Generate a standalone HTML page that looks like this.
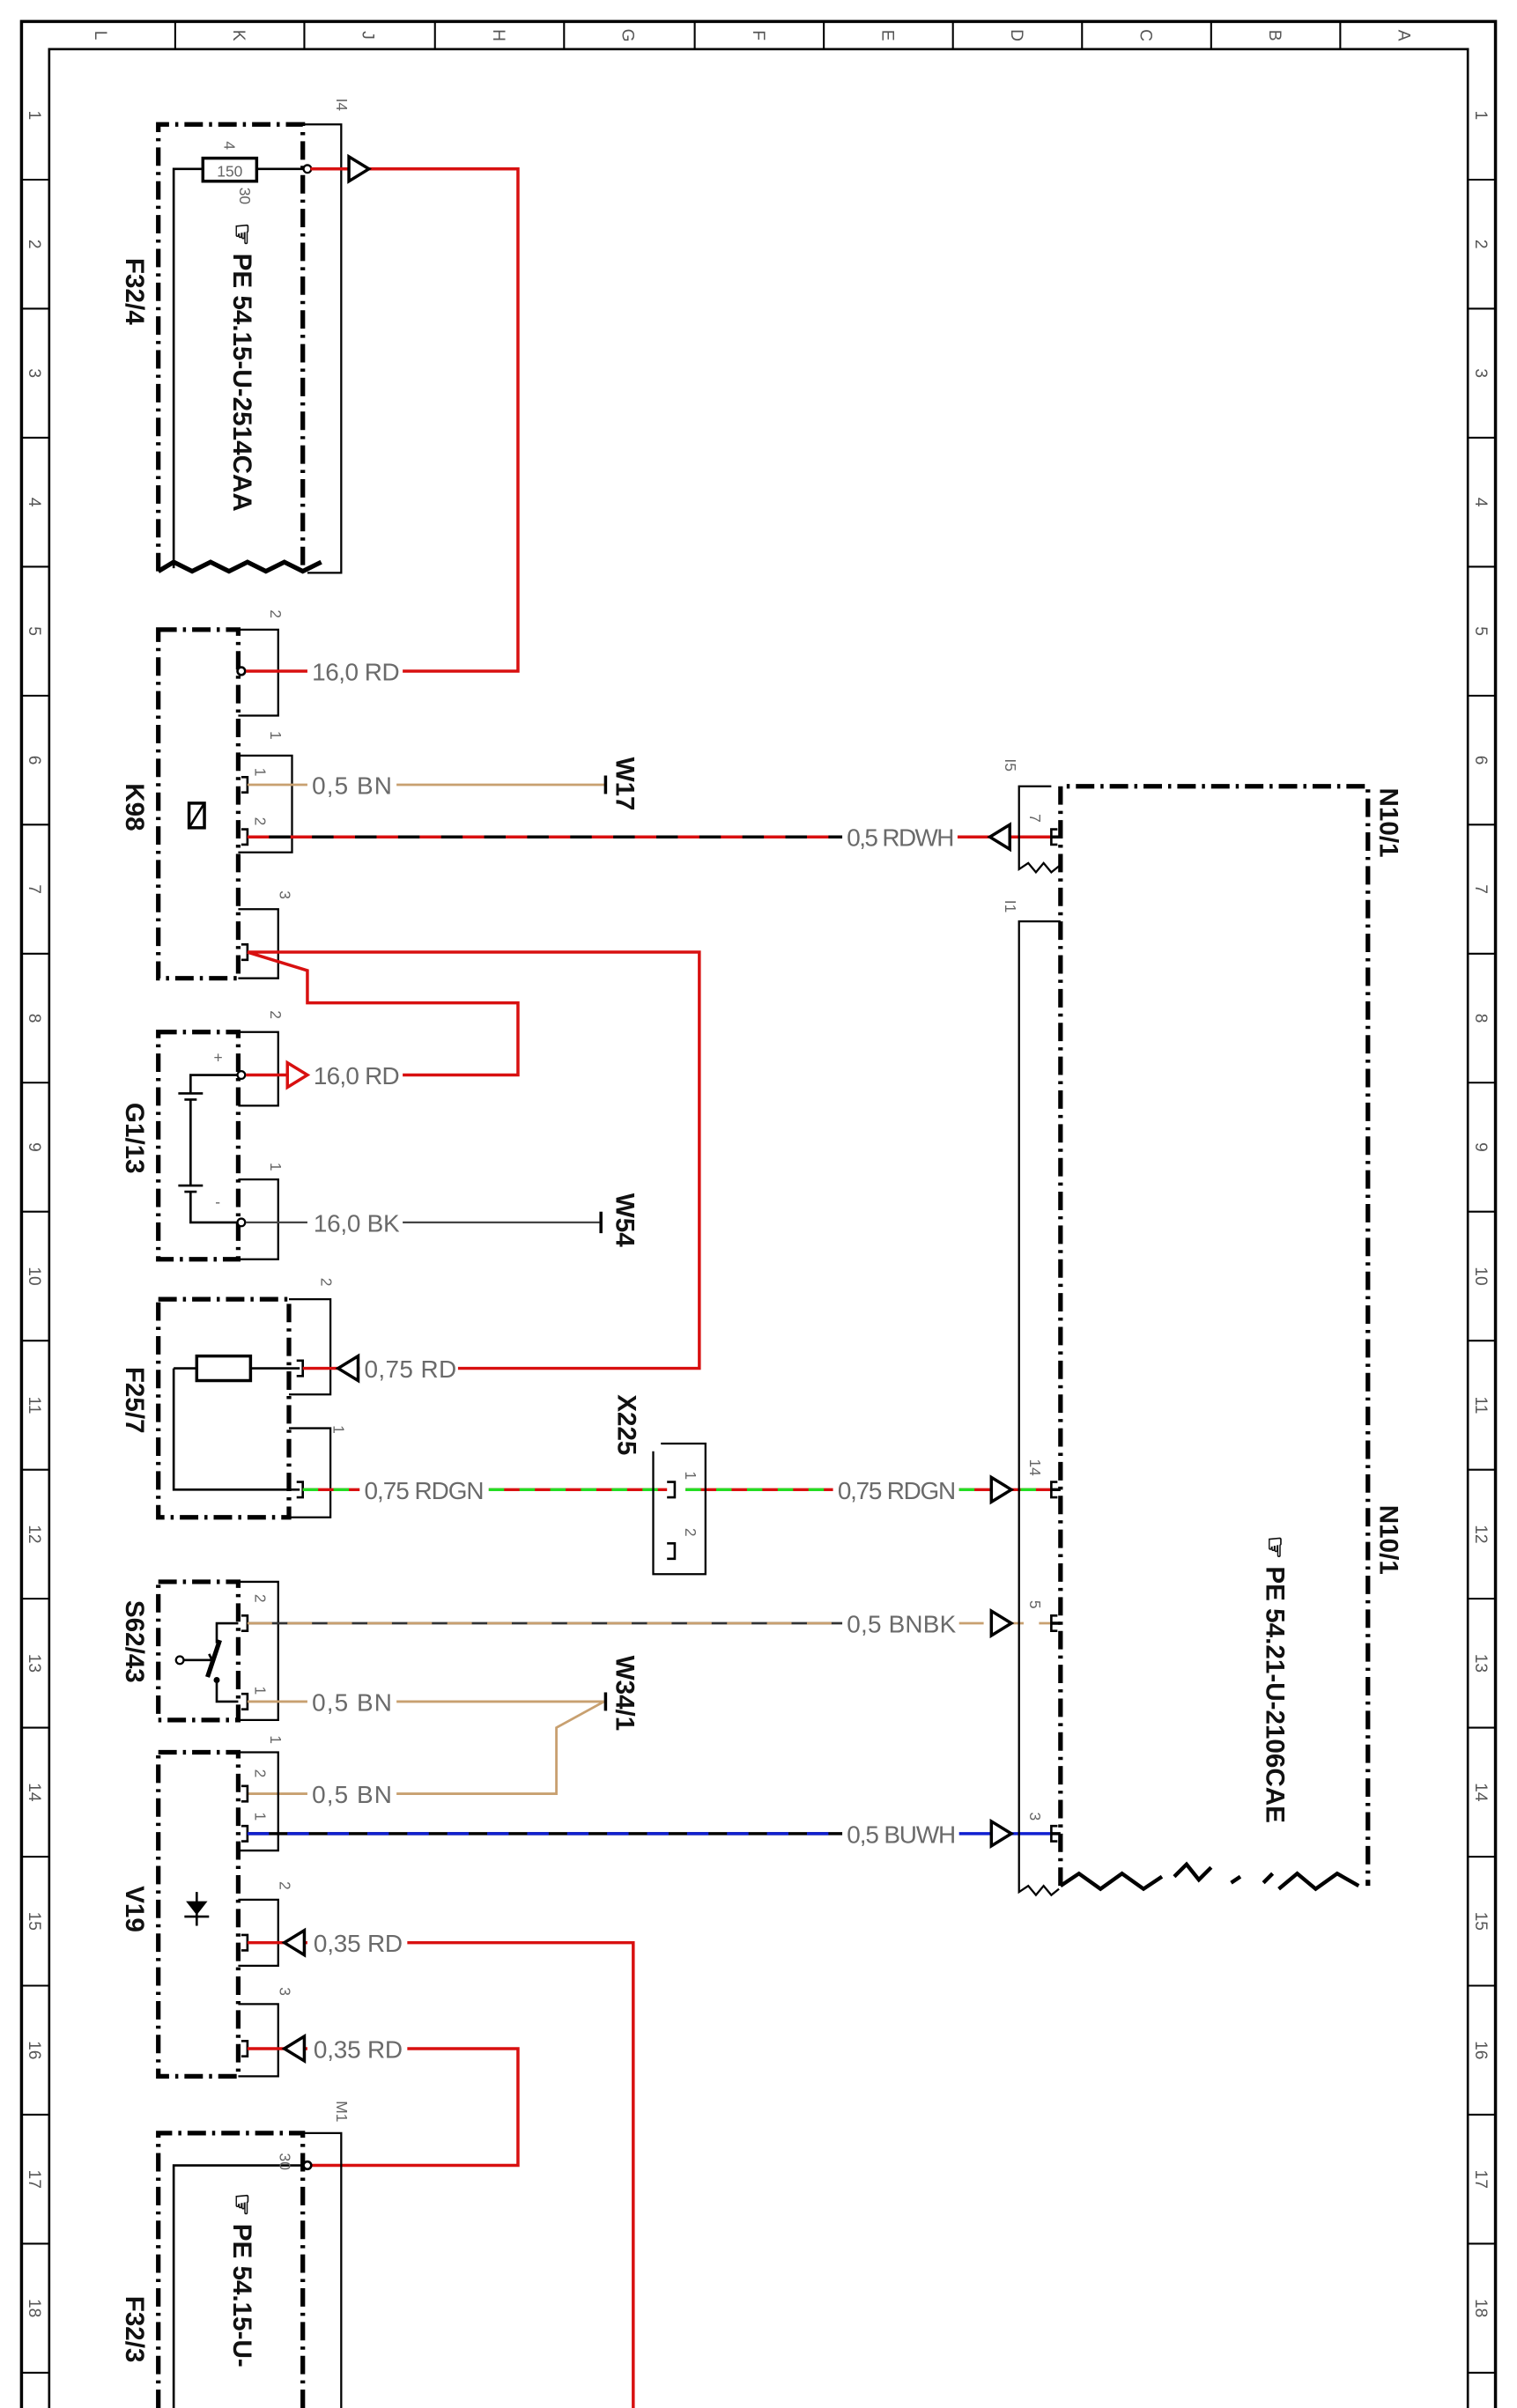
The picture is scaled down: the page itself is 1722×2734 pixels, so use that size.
<!DOCTYPE html>
<html><head><meta charset="utf-8"><style>
html,body{margin:0;padding:0;background:#fff}
svg{display:block}
text{font-family:"Liberation Sans",sans-serif}
.w{fill:#6a6a6a;font-size:16px}
.p{fill:#666;font-size:10px}
.b{fill:#111;font-size:17px;font-weight:bold}
.g{fill:#555;font-size:11px}
.db{fill:none;stroke:#000;stroke-width:3;stroke-dasharray:12 4 2 4}
.br{fill:none;stroke:#000;stroke-width:1.3}
.k{fill:none;stroke:#000;stroke-width:1.5}
.rd{fill:none;stroke:#d81010;stroke-width:2}
.bn{fill:none;stroke:#c8a070;stroke-width:1.6}
.tri{fill:#fff;stroke:#000;stroke-width:2}
</style></head><body>
<svg width="1722" height="2734" viewBox="0 0 987 1568" preserveAspectRatio="none" xmlns="http://www.w3.org/2000/svg">
<!-- frame -->
<path d="M14 1568 V14 H973 V1568" fill="none" stroke="#000" stroke-width="2"/>
<path d="M32 1568 V32 H955 V1568" fill="none" stroke="#000" stroke-width="1.5"/>
<g stroke="#000" stroke-width="1.2">
<line x1="114" y1="14" x2="114" y2="32"/><line x1="198" y1="14" x2="198" y2="32"/><line x1="283" y1="14" x2="283" y2="32"/><line x1="367" y1="14" x2="367" y2="32"/><line x1="452" y1="14" x2="452" y2="32"/><line x1="536" y1="14" x2="536" y2="32"/><line x1="620" y1="14" x2="620" y2="32"/><line x1="704" y1="14" x2="704" y2="32"/><line x1="788" y1="14" x2="788" y2="32"/><line x1="872" y1="14" x2="872" y2="32"/>
<line x1="14" y1="117" x2="32" y2="117"/><line x1="14" y1="201" x2="32" y2="201"/><line x1="14" y1="285" x2="32" y2="285"/><line x1="14" y1="369" x2="32" y2="369"/><line x1="14" y1="453" x2="32" y2="453"/><line x1="14" y1="537" x2="32" y2="537"/><line x1="14" y1="621" x2="32" y2="621"/><line x1="14" y1="705" x2="32" y2="705"/><line x1="14" y1="789" x2="32" y2="789"/><line x1="14" y1="873" x2="32" y2="873"/><line x1="14" y1="957" x2="32" y2="957"/><line x1="14" y1="1041" x2="32" y2="1041"/><line x1="14" y1="1125" x2="32" y2="1125"/><line x1="14" y1="1209" x2="32" y2="1209"/><line x1="14" y1="1293" x2="32" y2="1293"/><line x1="14" y1="1377" x2="32" y2="1377"/><line x1="14" y1="1461" x2="32" y2="1461"/><line x1="14" y1="1545" x2="32" y2="1545"/>
<line x1="955" y1="117" x2="973" y2="117"/><line x1="955" y1="201" x2="973" y2="201"/><line x1="955" y1="285" x2="973" y2="285"/><line x1="955" y1="369" x2="973" y2="369"/><line x1="955" y1="453" x2="973" y2="453"/><line x1="955" y1="537" x2="973" y2="537"/><line x1="955" y1="621" x2="973" y2="621"/><line x1="955" y1="705" x2="973" y2="705"/><line x1="955" y1="789" x2="973" y2="789"/><line x1="955" y1="873" x2="973" y2="873"/><line x1="955" y1="957" x2="973" y2="957"/><line x1="955" y1="1041" x2="973" y2="1041"/><line x1="955" y1="1125" x2="973" y2="1125"/><line x1="955" y1="1209" x2="973" y2="1209"/><line x1="955" y1="1293" x2="973" y2="1293"/><line x1="955" y1="1377" x2="973" y2="1377"/><line x1="955" y1="1461" x2="973" y2="1461"/><line x1="955" y1="1545" x2="973" y2="1545"/>
</g>
<g class="g" text-anchor="middle">
<text transform="translate(62,23) rotate(90)">L</text><text transform="translate(152,23) rotate(90)">K</text><text transform="translate(236,23) rotate(90)">J</text><text transform="translate(321,23) rotate(90)">H</text><text transform="translate(405,23) rotate(90)">G</text><text transform="translate(490,23) rotate(90)">F</text><text transform="translate(574,23) rotate(90)">E</text><text transform="translate(658,23) rotate(90)">D</text><text transform="translate(742,23) rotate(90)">C</text><text transform="translate(826,23) rotate(90)">B</text><text transform="translate(910,23) rotate(90)">A</text>
</g>
<g class="g" text-anchor="middle">
<text transform="translate(19,75) rotate(90)">1</text><text transform="translate(19,159) rotate(90)">2</text><text transform="translate(19,243) rotate(90)">3</text><text transform="translate(19,327) rotate(90)">4</text><text transform="translate(19,411) rotate(90)">5</text><text transform="translate(19,495) rotate(90)">6</text><text transform="translate(19,579) rotate(90)">7</text><text transform="translate(19,663) rotate(90)">8</text><text transform="translate(19,747) rotate(90)">9</text><text transform="translate(19,831) rotate(90)">10</text><text transform="translate(19,915) rotate(90)">11</text><text transform="translate(19,999) rotate(90)">12</text><text transform="translate(19,1083) rotate(90)">13</text><text transform="translate(19,1167) rotate(90)">14</text><text transform="translate(19,1251) rotate(90)">15</text><text transform="translate(19,1335) rotate(90)">16</text><text transform="translate(19,1419) rotate(90)">17</text><text transform="translate(19,1503) rotate(90)">18</text>
<text transform="translate(960,75) rotate(90)">1</text><text transform="translate(960,159) rotate(90)">2</text><text transform="translate(960,243) rotate(90)">3</text><text transform="translate(960,327) rotate(90)">4</text><text transform="translate(960,411) rotate(90)">5</text><text transform="translate(960,495) rotate(90)">6</text><text transform="translate(960,579) rotate(90)">7</text><text transform="translate(960,663) rotate(90)">8</text><text transform="translate(960,747) rotate(90)">9</text><text transform="translate(960,831) rotate(90)">10</text><text transform="translate(960,915) rotate(90)">11</text><text transform="translate(960,999) rotate(90)">12</text><text transform="translate(960,1083) rotate(90)">13</text><text transform="translate(960,1167) rotate(90)">14</text><text transform="translate(960,1251) rotate(90)">15</text><text transform="translate(960,1335) rotate(90)">16</text><text transform="translate(960,1419) rotate(90)">17</text><text transform="translate(960,1503) rotate(90)">18</text>
</g>

<!-- F32/4 -->
<path class="db" d="M103 372 V81 H197 V372"/>
<path d="M103 372 l10 -6 l12 6 l12 -6 l12 6 l12 -6 l12 6 l12 -6 l12 6 l12 -6" fill="none" stroke="#000" stroke-width="3"/>
<path class="k" d="M113 370 V110 H132 M167 110 H198"/>
<rect x="132" y="103" width="35" height="15" fill="#fff" stroke="#000" stroke-width="2"/>
<text x="149.5" y="115" class="p" text-anchor="middle" font-size="11">150</text>
<path class="br" d="M198 81 H222 V373 H200"/>
<circle cx="200" cy="110" r="2.5" fill="#fff" stroke="#000" stroke-width="1.3"/>
<text class="p" transform="translate(219,64) rotate(90)">I4</text>
<text class="p" transform="translate(146,92) rotate(90)">4</text>
<text class="p" transform="translate(156,122) rotate(90)">30</text>
<text class="b" transform="translate(152,145) rotate(90)">☞ PE  54.15-U-2514CAA</text>
<text class="b" transform="translate(82,168) rotate(90)" font-weight="normal" font-size="19">F32/4</text>
<path class="rd" d="M202 110 H337 V437 H262"/>
<polygon class="tri" points="227,102 227,118 240,110"/>

<!-- K98 -->
<path class="db" d="M103 410 H155 V637 H103 Z"/>
<path class="br" d="M155 410 H181 V466 H155 M155 492 H190 V555 H155 M155 592 H181 V637 H155"/>
<text class="p" transform="translate(176,397) rotate(90)">2</text>
<text class="p" transform="translate(176,476) rotate(90)">1</text>
<text class="p" transform="translate(166,500) rotate(90)">1</text>
<text class="p" transform="translate(166,532) rotate(90)">2</text>
<text class="p" transform="translate(182,580) rotate(90)">3</text>
<circle cx="157" cy="437" r="2.5" fill="#fff" stroke="#000" stroke-width="1.5"/>
<path class="rd" d="M160 437 H200"/>
<text class="w" x="203" y="443" textLength="57">16,0 RD</text>
<rect x="123" y="523" width="10" height="16" fill="none" stroke="#000" stroke-width="2"/><line x1="123" y1="539" x2="133" y2="523" stroke="#000" stroke-width="1.5"/>
<text class="b" transform="translate(82,510) rotate(90)" font-size="19">K98</text>
<path d="M157 506 h4 v10 h-4 M157 540 h4 v10 h-4 M157 615 h4 v10 h-4" fill="none" stroke="#000" stroke-width="1.5"/>
<path class="bn" d="M161 511 H200 M258 511 H394"/>
<text class="w" x="203" y="517" textLength="52">0,5 BN</text>
<line x1="394" y1="505" x2="394" y2="517" stroke="#000" stroke-width="2"/>
<text class="b" transform="translate(401,493) rotate(90)">W17</text>
<path d="M161 545 H548" stroke="#000" stroke-width="2" fill="none"/>
<path d="M161 545 H548" stroke="#d81010" stroke-width="2" stroke-dasharray="14 14" fill="none"/>
<text class="w" x="551" y="551" textLength="70">0,5 RDWH</text>
<path class="rd" d="M623 545 H684"/>
<polygon class="tri" points="657,537 657,553 644,545"/>
<path class="rd" d="M161 620 H455 V891 H298 M161 620 L200 632 V653 H337 V700 H262"/>

<!-- G1/13 -->
<path class="db" d="M103 672 H155 V820 H103 Z"/>
<path class="br" d="M155 672 H181 V720 H155 M155 768 H181 V820 H155"/>
<text class="p" transform="translate(176,658) rotate(90)">2</text>
<text class="p" transform="translate(176,757) rotate(90)">1</text>
<path class="k" d="M155 700 H124 V712 M116 712 H132 M120 716 H128 M124 716 V772 M116 772 H132 M120 776 H128 M124 776 V796 H155" stroke-dasharray=""/>
<text class="p" x="139" y="692" font-size="13">+</text><text class="p" x="140" y="786" font-size="13">-</text>
<circle cx="157" cy="700" r="2.5" fill="#fff" stroke="#000" stroke-width="1.3"/>
<circle cx="157" cy="796" r="2.5" fill="#fff" stroke="#000" stroke-width="1.3"/>
<path class="rd" d="M160 700 H200"/>
<polygon points="187,692 187,708 200,700" fill="#fff" stroke="#d81010" stroke-width="2"/>
<text class="w" x="204" y="706" textLength="56">16,0 RD</text>
<path d="M160 796 H200 M262 796 H390" stroke="#444" stroke-width="1.3"/>
<text class="w" x="204" y="802" textLength="56">16,0 BK</text>
<line x1="391" y1="789" x2="391" y2="803" stroke="#000" stroke-width="2"/>
<text class="b" transform="translate(401,777) rotate(90)">W54</text>
<text class="b" transform="translate(82,718) rotate(90)" font-size="19">G1/13</text>

<!-- F25/7 -->
<path class="db" d="M103 846 H188 V988 H103 Z"/>
<path class="br" d="M188 846 H215 V908 H188 M188 930 H215 V988 H188"/>
<text class="p" transform="translate(209,832) rotate(90)">2</text>
<text class="p" transform="translate(217,928) rotate(90)">1</text>
<rect x="128" y="883" width="35" height="16" fill="#fff" stroke="#000" stroke-width="2"/>
<path class="k" d="M113 891 H128 M163 891 H195 M113 891 V970 H195"/>
<path d="M193 886 h4 v10 h-4 M193 965 h4 v10 h-4" fill="none" stroke="#000" stroke-width="1.5"/>
<path class="rd" d="M197 891 H234"/>
<polygon class="tri" points="233,883 233,899 220,891"/>
<text class="w" x="237" y="897" textLength="60">0,75 RD</text>
<text class="b" transform="translate(82,890) rotate(90)" font-size="19">F25/7</text>
<path d="M197 970 H234 M318 970 H434 M446 970 H542 M624 970 H684" stroke="#d81010" stroke-width="2" fill="none"/>
<path d="M197 970 H234 M318 970 H434 M446 970 H542 M624 970 H684" stroke="#22dd22" stroke-width="2" stroke-dasharray="10 10" fill="none"/>
<text class="w" x="237" y="976" textLength="78">0,75 RDGN</text>
<text class="w" x="545" y="976" textLength="77">0,75 RDGN</text>
<polygon class="tri" points="645,962 645,978 658,970"/>
<path class="br" d="M425 945 V1025 H459 V940 H430" stroke-width="1.5"/>
<path d="M434 965 h5 v10 h-5 M434 1005 h5 v10 h-5" fill="none" stroke="#000" stroke-width="1.5"/>
<text class="p" transform="translate(446,958) rotate(90)">1</text>
<text class="p" transform="translate(446,995) rotate(90)">2</text>
<text class="b" transform="translate(402,908) rotate(90)">X225</text>

<!-- S62/43 -->
<path class="db" d="M103 1030 H155 V1120 H103 Z"/>
<path class="br" d="M155 1030 H181 V1120 H155"/>
<text class="p" transform="translate(166,1038) rotate(90)">2</text>
<text class="p" transform="translate(166,1098) rotate(90)">1</text>
<path class="k" d="M155 1057 H141 V1070 M141 1095 V1108 H155"/>
<line x1="143" y1="1068" x2="135" y2="1092" stroke="#000" stroke-width="3"/>
<circle cx="141" cy="1094" r="2" fill="#000"/>
<path class="k" d="M118 1081 H138 M136 1077 L138 1081"/>
<circle cx="117" cy="1081" r="2.5" fill="#fff" stroke="#000" stroke-width="1.3"/>
<path d="M157 1052 h4 v10 h-4 M157 1103 h4 v10 h-4" fill="none" stroke="#000" stroke-width="1.5"/>
<path d="M161 1057 H548" stroke="#333" stroke-width="1.6" fill="none"/>
<path d="M161 1057 H548 M624 1057 H684" stroke="#c8a070" stroke-width="1.6" stroke-dasharray="16 10" fill="none"/>
<text class="w" x="551" y="1063" textLength="71">0,5 BNBK</text>
<polygon class="tri" points="645,1049 645,1065 658,1057"/>
<path class="bn" d="M161 1108 H200 M258 1108 H393 M161 1168 H200 M258 1168 H362 V1125 L393 1108"/>
<text class="w" x="203" y="1114" textLength="52">0,5 BN</text>
<text class="w" x="203" y="1174" textLength="52">0,5 BN</text>
<line x1="394" y1="1102" x2="394" y2="1114" stroke="#000" stroke-width="2"/>
<text class="b" transform="translate(401,1078) rotate(90)">W34/1</text>
<text class="b" transform="translate(82,1042) rotate(90)" font-size="19">S62/43</text>

<!-- V19 -->
<path class="db" d="M103 1141 H155 V1352 H103 Z"/>
<path class="br" d="M155 1141 H181 V1205 H155 M155 1237 H181 V1280 H155 M155 1305 H181 V1352 H155"/>
<text class="p" transform="translate(176,1130) rotate(90)">1</text>
<text class="p" transform="translate(166,1152) rotate(90)">2</text>
<text class="p" transform="translate(166,1180) rotate(90)">1</text>
<text class="p" transform="translate(182,1225) rotate(90)">2</text>
<text class="p" transform="translate(182,1294) rotate(90)">3</text>
<polygon points="121,1238 135,1238 128,1247" fill="#000"/>
<path class="k" d="M120 1248 H136 M128 1232 V1254" stroke-width="2"/>
<path d="M157 1163 h4 v10 h-4 M157 1189 h4 v10 h-4 M157 1260 h4 v10 h-4 M157 1329 h4 v10 h-4" fill="none" stroke="#000" stroke-width="1.5"/>
<path d="M161 1194 H548" stroke="#000" stroke-width="2" fill="none"/>
<path d="M161 1194 H548" stroke="#1020d0" stroke-width="2" stroke-dasharray="14 12" fill="none"/>
<path d="M624 1194 H684" stroke="#1020d0" stroke-width="2" fill="none"/>
<text class="w" x="551" y="1200" textLength="71">0,5 BUWH</text>
<polygon class="tri" points="645,1186 645,1202 658,1194"/>
<path class="rd" d="M161 1265 H200 M265 1265 H412 V1568 M161 1334 H200 M265 1334 H337 V1410 H202"/>
<polygon class="tri" points="198,1257 198,1273 185,1265"/>
<polygon class="tri" points="198,1326 198,1342 185,1334"/>
<text class="w" x="204" y="1271" textLength="58">0,35 RD</text>
<text class="w" x="204" y="1340" textLength="58">0,35 RD</text>
<text class="b" transform="translate(82,1228) rotate(90)" font-size="19">V19</text>

<!-- F32/3 -->
<path class="db" d="M103 1568 V1389 H197 V1568"/>
<path class="k" d="M113 1568 V1410 H197"/>
<path class="br" d="M197 1389 H222 V1568"/>
<circle cx="200" cy="1410" r="2.5" fill="#fff" stroke="#000" stroke-width="1.5"/>
<text class="p" transform="translate(219,1368) rotate(90)">M1</text>
<text class="p" transform="translate(182,1402) rotate(90)">30</text>
<text class="b" transform="translate(152,1428) rotate(90)">☞ PE  54.15-U-</text>
<text class="b" transform="translate(82,1495) rotate(90)" font-weight="normal" font-size="19">F32/3</text>

<!-- N10/1 -->
<path class="db" d="M690 1228 V512 H890 V1228"/>
<path d="M690 1228 l12 -8 l14 10 l14 -10 l14 10 l12 -8 M764 1222 l8 -8 l8 10 l8 -8 M801 1226 l6 -4 M822 1226 l6 -6 M832 1230 l12 -10 l12 10 l14 -10 l14 8" fill="none" stroke="#000" stroke-width="2.5"/>
<path class="br" d="M684 512 H663 V566 l6 -4 l5 6 l5 -6 l5 6 l5 -4 M690 600 H663 V1232 l6 -4 l5 6 l5 -6 l5 6 l5 -4"/>
<text class="p" transform="translate(654,494) rotate(90)">I5</text>
<text class="p" transform="translate(654,586) rotate(90)">I1</text>
<text class="p" transform="translate(670,530) rotate(90)">7</text>
<text class="p" transform="translate(670,950) rotate(90)">14</text>
<text class="p" transform="translate(670,1042) rotate(90)">5</text>
<text class="p" transform="translate(670,1180) rotate(90)">3</text>
<path d="M688 540 h-4 v10 h4 M688 965 h-4 v10 h4 M688 1052 h-4 v10 h4 M688 1189 h-4 v10 h4" fill="none" stroke="#000" stroke-width="1.5"/>
<path d="M684 545 H690 M684 970 H690 M684 1057 H690 M684 1194 H690" stroke="#000" stroke-width="2"/>
<text class="b" transform="translate(898,513) rotate(90)" font-size="19">N10/1</text>
<text class="b" transform="translate(898,980) rotate(90)" font-size="19">N10/1</text>
<text class="b" transform="translate(824,1000) rotate(90)" font-size="19">☞ PE  54.21-U-2106CAE</text>
</svg>
</body></html>
